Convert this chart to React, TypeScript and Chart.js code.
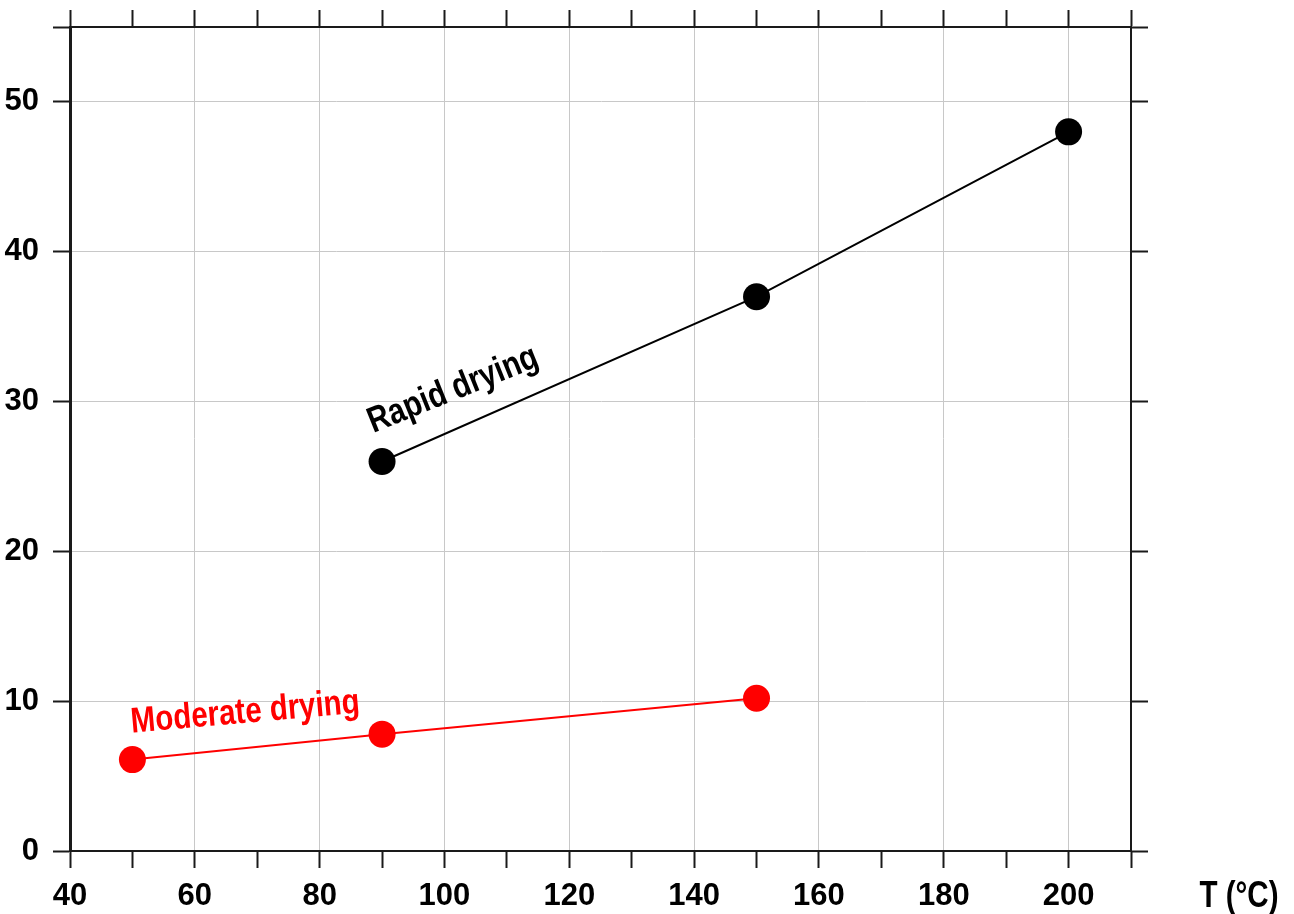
import React, { useEffect, useRef } from 'react';
import { Chart, registerables } from 'chart.js';

Chart.register(...registerables);

// ---- data ----
const rapidTemps = [90, 150, 200];
const rapidValues = [26, 37, 48];
const moderateTemps = [50, 90, 150];
const moderateValues = [6.1, 7.8, 10.2];

const xMin = 40;
const xMax = 210;
const xTickStep = 10;
const xLabelStep = 20;
const yMin = 0;
const yMax = 55;
const yTickValues = [0, 10, 20, 30, 40, 50, 55];
const yLabelValues = [0, 10, 20, 30, 40, 50];

const seriesNames = ['Rapid drying', 'Moderate drying'];
const seriesColors = ['#000000', '#ff0000'];
// label anchors in data units (start of text baseline) and rotation (deg)
const labelAnchorX = [88.6, 49.9];
const labelAnchorY = [27.9, 7.9];
const labelAngles = [-22, -5];
const xAxisTitle = 'T (°C)';

const FONT = '"Liberation Sans", Arial, sans-serif';
const TICK_SIZE = 31;
const TEXT_SIZE = 36;
const NARROW = 0.82;
const GRID = '#c8c8c8';
const AXIS = '#1a1a1a';

const annotationPlugin = {
  id: 'seriesAnnotations',
  afterDatasetsDraw(chart: any) {
    const { ctx, chartArea } = chart;
    const xs = chart.scales.x;
    const ys = chart.scales.y;
    ctx.save();
    ctx.font = `bold ${TEXT_SIZE}px ${FONT}`;
    ctx.textAlign = 'left';
    ctx.textBaseline = 'alphabetic';
    seriesNames.forEach((name, i) => {
      const px = xs.getPixelForValue(labelAnchorX[i]);
      const py = ys.getPixelForValue(labelAnchorY[i]);
      ctx.save();
      ctx.translate(px, py);
      ctx.rotate((labelAngles[i] * Math.PI) / 180);
      ctx.scale(NARROW, 1);
      ctx.fillStyle = seriesColors[i];
      ctx.fillText(name, 0, 0);
      ctx.restore();
    });
    ctx.save();
    ctx.fillStyle = '#000';
    ctx.textAlign = 'center';
    ctx.translate(chartArea.right + 108, chartArea.bottom + 56);
    ctx.scale(NARROW, 1);
    ctx.fillText(xAxisTitle, 0, 0);
    ctx.restore();
    ctx.restore();
  },
};

export default function App() {
  const canvasRef = useRef<HTMLCanvasElement | null>(null);

  useEffect(() => {
    if (!canvasRef.current) return;
    const tickFont = { family: FONT, size: TICK_SIZE, weight: 'bold' as const };
    const chart = new Chart(canvasRef.current, {
      type: 'scatter',
      data: {
        datasets: [
          {
            label: seriesNames[0],
            data: rapidTemps.map((t, i) => ({ x: t, y: rapidValues[i] })),
            showLine: true,
            borderColor: seriesColors[0],
            backgroundColor: seriesColors[0],
            borderWidth: 2,
            pointRadius: 13.5,
            pointBorderWidth: 0,
          },
          {
            label: seriesNames[1],
            data: moderateTemps.map((t, i) => ({ x: t, y: moderateValues[i] })),
            showLine: true,
            borderColor: seriesColors[1],
            backgroundColor: seriesColors[1],
            borderWidth: 2,
            pointRadius: 13.5,
            pointBorderWidth: 0,
          },
        ],
      },
      options: {
        responsive: false,
        animation: false,
        layout: { padding: 0 },
        plugins: { legend: { display: false }, tooltip: { enabled: false } },
        scales: {
          x: {
            type: 'linear',
            position: 'bottom',
            min: xMin,
            max: xMax,
            afterFit: (s: any) => { s.height = 63; },
            ticks: {
              stepSize: xTickStep,
              autoSkip: false,
              maxRotation: 0,
              padding: 10,
              color: '#000',
              font: tickFont,
              callback: (v: any) => (Number(v) % xLabelStep === 0 ? String(v) : ''),
            },
            grid: {
              color: (c: any) => (c.tick && c.tick.value % xLabelStep === 0 && c.tick.value !== xMin ? GRID : 'rgba(0,0,0,0)'),
              lineWidth: 1,
              tickColor: AXIS,
              tickWidth: 2,
              tickLength: 17,
              drawTicks: true,
            },
            border: { display: true, color: AXIS, width: 2 },
          },
          x2: {
            type: 'linear',
            position: 'top',
            min: xMin,
            max: xMax,
            afterFit: (s: any) => { s.height = 27; },
            ticks: { stepSize: xTickStep, autoSkip: false, display: false },
            grid: {
              drawOnChartArea: false,
              tickColor: AXIS,
              tickWidth: 2,
              tickLength: 17,
              drawTicks: true,
            },
            border: { display: true, color: AXIS, width: 2 },
          },
          y: {
            type: 'linear',
            position: 'left',
            min: yMin,
            max: yMax,
            afterFit: (s: any) => { s.width = 70; },
            afterBuildTicks: (s: any) => { s.ticks = yTickValues.map((v) => ({ value: v })); },
            ticks: {
              autoSkip: false,
              padding: 14,
              color: '#000',
              font: (c: any) => (c.tick && c.tick.value === yMax ? { family: FONT, size: 1 } : tickFont),
              callback: (v: any) => (yLabelValues.includes(Number(v)) ? String(v) : ''),
            },
            grid: {
              color: (c: any) => (c.tick && c.tick.value === yMax ? 'rgba(0,0,0,0)' : GRID),
              lineWidth: 1,
              tickColor: AXIS,
              tickWidth: 2,
              tickLength: 17,
              drawTicks: true,
            },
            border: { display: true, color: AXIS, width: 3 },
          },
          y2: {
            type: 'linear',
            position: 'right',
            min: yMin,
            max: yMax,
            afterFit: (s: any) => { s.width = 163; },
            afterBuildTicks: (s: any) => { s.ticks = yTickValues.map((v) => ({ value: v })); },
            ticks: { display: false },
            grid: {
              drawOnChartArea: false,
              tickColor: AXIS,
              tickWidth: 2,
              tickLength: 17,
              drawTicks: true,
            },
            border: { display: true, color: AXIS, width: 2 },
          },
        },
      },
      plugins: [annotationPlugin],
    } as any);
    return () => chart.destroy();
  }, []);

  return (
    <div style={{ position: 'fixed', left: 0, top: 0, width: 1294, height: 914, background: '#fff' }}>
      <canvas ref={canvasRef} width={1294} height={914} />
    </div>
  );
}
